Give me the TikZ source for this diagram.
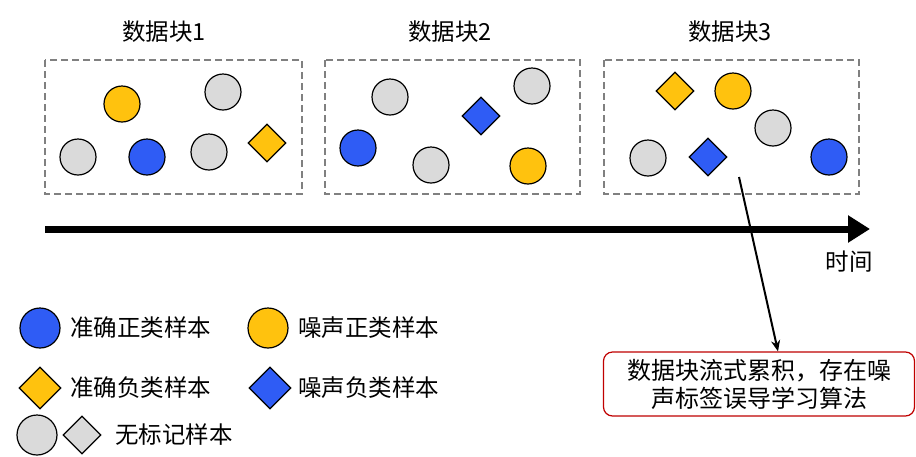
\documentclass[tikz,border=0pt]{standalone}
\usepackage{fontspec}
\setmainfont{Noto Sans CJK SC}
\usetikzlibrary{arrows.meta,shapes.geometric}
\definecolor{cblue}{HTML}{2F5CF5}
\definecolor{cyellow}{HTML}{FFC20E}
\definecolor{cgray}{HTML}{DADADA}
\definecolor{cdash}{HTML}{808080}
\definecolor{cred}{HTML}{C00000}
\tikzset{
  samp/.style={circle,draw=black,line width=1.2pt,minimum size=36pt,inner sep=0pt},
  dsamp/.style={diamond,draw=black,line width=1.2pt,minimum size=38pt,inner sep=0pt},
  bluec/.style={samp,fill=cblue},
  yelc/.style={samp,fill=cyellow},
  grayc/.style={samp,fill=cgray},
  blued/.style={dsamp,fill=cblue},
  yeld/.style={dsamp,fill=cyellow},
  grayd/.style={dsamp,fill=cgray},
  chunk/.style={draw=cdash,dashed,line width=1.2pt,dash pattern=on 7pt off 4pt},
  lbl/.style={font=\fontsize{23.5}{26}\selectfont,inner sep=0pt},
}
\begin{document}
\begin{tikzpicture}[x=1pt,y=-1pt]
\useasboundingbox[fill=white] (0,0) rectangle (916,456);
% chunks
\draw[chunk] (45,60) rectangle (302,194);
\draw[chunk] (325,60) rectangle (580,194);
\draw[chunk] (604,60) rectangle (859,194);
\node[lbl] (t1) at (164,32) {数据块1};
\node[lbl] (t2) at (450,32) {数据块2};
\node[lbl] (t3) at (730,32) {数据块3};
% chunk 1
\node[yelc] (a1) at (122,104) {};
\node[grayc] (a2) at (223,92) {};
\node[grayc] (a3) at (78,157) {};
\node[bluec] (a4) at (147,157) {};
\node[grayc] (a5) at (209,152) {};
\node[yeld] (a6) at (267,143) {};
% chunk 2
\node[grayc] (b1) at (390,97) {};
\node[blued] (b2) at (481,116) {};
\node[grayc] (b3) at (532,86) {};
\node[bluec] (b4) at (358,148) {};
\node[grayc] (b5) at (431,165) {};
\node[yelc] (b6) at (528,166) {};
% chunk 3
\node[yeld] (c1) at (675,91) {};
\node[yelc] (c2) at (733,91) {};
\node[grayc] (c3) at (773,128) {};
\node[grayc] (c4) at (648,158) {};
\node[blued] (c5) at (708,157) {};
\node[bluec] (c6) at (829,157) {};
% time axis
\coordinate (ts) at (45,229);
\coordinate (te) at (870,229);
\draw[line width=7pt,-{Triangle[length=22pt,width=26pt]}] (ts) -- (te);
\node[lbl] (time) at (849,262) {时间};
% note
\node[draw=cred,line width=1.2pt,rounded corners=9pt,minimum width=311pt,minimum height=64pt,align=center,font=\fontsize{24}{28}\selectfont,inner sep=2pt] (note) at (759,384) {数据块流式累积，存在噪\\声标签误导学习算法};
\coordinate (ps) at (739,177);
\draw[line width=2pt,-{Stealth[length=11pt,width=9pt]}] (ps) -- (note.north -| 778,0);
% legend
\node[bluec,minimum size=40pt] (l1) at (40,328) {};
\node[lbl,anchor=west] (l1t) at (70,328) {准确正类样本};
\node[yelc,minimum size=40pt] (l2) at (268,328) {};
\node[lbl,anchor=west] (l2t) at (298,328) {噪声正类样本};
\node[yeld,minimum size=42pt] (l3) at (40,388) {};
\node[lbl,anchor=west] (l3t) at (70,388) {准确负类样本};
\node[blued,minimum size=42pt] (l4) at (270,388) {};
\node[lbl,anchor=west] (l4t) at (298,388) {噪声负类样本};
\node[grayc,minimum size=40pt] (l5) at (37,435) {};
\node[grayd,minimum size=38pt] (l6) at (82,435) {};
\node[lbl,anchor=west] (l5t) at (115,435) {无标记样本};
\end{tikzpicture}
\end{document}
